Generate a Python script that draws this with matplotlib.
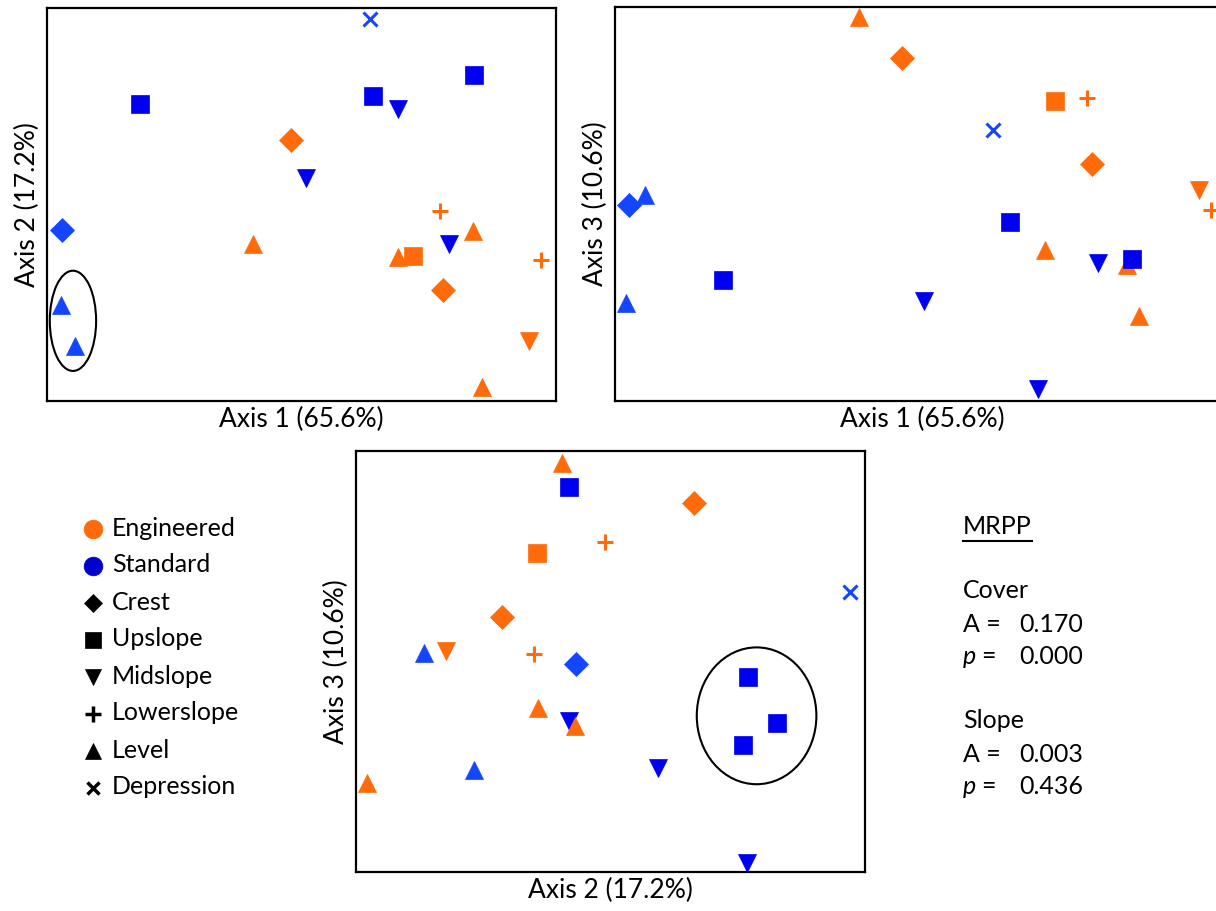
import matplotlib
matplotlib.use("Agg")
import matplotlib.pyplot as plt
from matplotlib.lines import Line2D
from matplotlib.patches import Ellipse

plt.rcParams["font.family"] = ["Lato", "DejaVu Sans"]

W, H = 1216, 911

ENG = "#FF6A0A"
STD_DARK = "#0000F0"
STD_LIGHT = "#1446FF"

MARKERS = {"Crest": "D", "Upslope": "s", "Midslope": "v",
           "Lowerslope": "+", "Level": "^", "Depression": "x"}
SIZES = {"Crest": 12.5, "Upslope": 13, "Midslope": 13,
         "Lowerslope": 12, "Level": 13, "Depression": 9.5}

# ordination scores (scaled 0-100 within each panel's frame)
# panel 1: Axis 1 vs Axis 2
p1_x = [63.4, 18.3, 64.0, 68.9, 83.9, 48.0, 50.8, 3.0, 40.4, 77.2,
        83.7, 78.9, 68.9, 71.9, 97.0, 77.8, 2.8, 5.5, 94.7, 85.4]
p1_y = [97.2, 75.6, 77.6, 74.3, 83.0, 66.4, 56.7, 43.5, 39.9, 48.3,
        43.3, 39.9, 36.6, 36.9, 35.9, 28.2, 24.4, 14.0, 15.3, 3.6]
p1_site = ["S", "S", "S", "S", "S", "E", "S", "S", "E", "E",
           "E", "S", "E", "E", "E", "E", "S", "S", "E", "E"]
p1_pos = ["Depression", "Upslope", "Upslope", "Midslope", "Upslope", "Crest",
          "Midslope", "Crest", "Level", "Lowerslope", "Level", "Midslope",
          "Level", "Upslope", "Lowerslope", "Crest", "Level", "Level",
          "Midslope", "Level"]
p1_ellipse = (5.1, 20.4, 9.1, 25.5)

# panel 2: Axis 1 vs Axis 3
p2_x = [39.6, 46.6, 71.5, 76.7, 61.4, 77.6, 94.9, 96.9, 4.8, 2.2,
        64.3, 69.9, 78.6, 83.3, 84.1, 17.5, 1.8, 50.3, 85.2, 68.8]
p2_y = [97.4, 87.0, 76.2, 76.8, 68.8, 60.1, 53.5, 48.6, 52.4, 49.7,
        45.4, 38.4, 35.0, 34.6, 36.1, 30.6, 25.0, 25.3, 21.6, 3.0]
p2_site = ["E", "E", "E", "E", "S", "E", "E", "E", "S", "S",
           "S", "E", "S", "E", "S", "S", "S", "S", "E", "S"]
p2_pos = ["Level", "Crest", "Upslope", "Lowerslope", "Depression", "Crest",
          "Midslope", "Lowerslope", "Level", "Crest", "Upslope", "Level",
          "Midslope", "Level", "Upslope", "Upslope", "Level", "Midslope",
          "Level", "Midslope"]

# panel 3: Axis 2 vs Axis 3
p3_x = [40.4, 41.9, 66.4, 48.9, 35.6, 97.1, 28.6, 13.4, 17.6, 34.9, 43.2,
        77.0, 35.8, 41.8, 43.1, 82.8, 76.0, 59.4, 23.2, 2.1, 76.8]
p3_y = [97.1, 91.5, 87.6, 78.5, 75.7, 66.6, 60.5, 52.1, 52.6, 51.8, 49.3,
        46.2, 38.9, 35.9, 34.7, 35.5, 30.2, 24.8, 24.2, 21.1, 2.1]
p3_site = ["E", "S", "E", "E", "E", "S", "E", "S", "E", "E", "S",
           "S", "E", "S", "E", "S", "S", "S", "S", "E", "S"]
p3_pos = ["Level", "Upslope", "Crest", "Lowerslope", "Upslope", "Depression",
          "Crest", "Level", "Midslope", "Lowerslope", "Crest", "Upslope",
          "Level", "Midslope", "Level", "Upslope", "Upslope", "Midslope",
          "Level", "Level", "Midslope"]
p3_ellipse = (78.7, 37.1, 23.5, 32.5)

legend_labels = ["Engineered", "Standard", "Crest", "Upslope", "Midslope",
                 "Lowerslope", "Level", "Depression"]
legend_markers = ["o", "o", "D", "s", "v", "+", "^", "x"]
legend_colors = [ENG, "#0000CC", "k", "k", "k", "k", "k", "k"]
legend_sizes = [13.5, 13.5, 9.5, 11.5, 11.5, 11.5, 11.5, 8.5]

mrpp_rows = [("Cover", "0.170", "0.000"), ("Slope", "0.003", "0.436")]


def point_color(site, pos):
    if site == "E":
        return ENG
    return STD_DARK if pos in ("Upslope", "Midslope") else STD_LIGHT


def add_panel(box, xs, ys, sites, poss, xlabel, ylabel, ellipse=None):
    left, top, right, bottom = box
    ax = fig.add_axes([left / W, 1 - bottom / H, (right - left) / W, (bottom - top) / H])
    ax.set_xlim(0, 100)
    ax.set_ylim(0, 100)
    ax.set_xticks([])
    ax.set_yticks([])
    for sp in ax.spines.values():
        sp.set_linewidth(1.6)
    for i, (x, y, s, p) in enumerate(zip(xs, ys, sites, poss)):
        c = point_color(s, p)
        lw = 2.2 if p in ("Lowerslope", "Depression") else 0.5
        ax.plot(x, y, linestyle="none", marker=MARKERS[p], ms=SIZES[p],
                color=c, mec=c, mew=lw, clip_on=False, zorder=3 + i * 0.01)
    if ellipse is not None:
        cx, cy, w, h = ellipse
        ax.add_patch(Ellipse((cx, cy), w, h, fill=False, ec="black", lw=1.5, zorder=2))
    ax.set_xlabel(xlabel, fontsize=19, labelpad=4)
    ax.set_ylabel(ylabel, fontsize=19, labelpad=5)
    return ax


fig = plt.figure(figsize=(W / 100, H / 100), dpi=100)

add_panel((47, 8, 556, 401), p1_x, p1_y, p1_site, p1_pos,
          "Axis 1 (65.6%)", "Axis 2 (17.2%)", p1_ellipse)
add_panel((615, 7, 1230, 401), p2_x, p2_y, p2_site, p2_pos,
          "Axis 1 (65.6%)", "Axis 3 (10.6%)")
add_panel((356, 451, 865, 872), p3_x, p3_y, p3_site, p3_pos,
          "Axis 2 (17.2%)", "Axis 3 (10.6%)", p3_ellipse)

# legend
lg = fig.add_axes([70 / W, 1 - 805.5 / H, 230 / W, 296 / H])
lg.set_xlim(70, 300)
lg.set_ylim(len(legend_labels) - 0.5, -0.5)
lg.axis("off")
for i, (lab, m, c, s) in enumerate(zip(legend_labels, legend_markers,
                                       legend_colors, legend_sizes)):
    mew = 2.5 if m in ("+", "x") else 0.5
    lg.plot(93, i + 0.03, linestyle="none", marker=m, ms=s, color=c, mec=c, mew=mew)
    lg.text(112, i, lab, fontsize=18, va="center", ha="left")

# MRPP summary
def fx(px):
    return px / W


def fy(py):
    return 1 - py / H


title = fig.text(fx(963), fy(527), "MRPP", fontsize=18, va="center")
row_y = 590
for name, a_val, p_val in mrpp_rows:
    fig.text(fx(963), fy(row_y), name, fontsize=18, va="center")
    fig.text(fx(963), fy(row_y + 34), "A =", fontsize=18, va="center")
    fig.text(fx(1019), fy(row_y + 34), a_val, fontsize=18, va="center")
    fig.text(fx(963), fy(row_y + 67), "p", fontsize=18, va="center", style="italic")
    fig.text(fx(981), fy(row_y + 67), "=", fontsize=18, va="center")
    fig.text(fx(1019), fy(row_y + 67), p_val, fontsize=18, va="center")
    row_y += 130

fig.canvas.draw()
bb = title.get_window_extent()
fig.add_artist(Line2D([bb.x0 / W, bb.x1 / W], [(bb.y0 - 2) / H] * 2,
                      color="black", lw=1.5, transform=fig.transFigure))

fig.savefig("out.png", dpi=100)
